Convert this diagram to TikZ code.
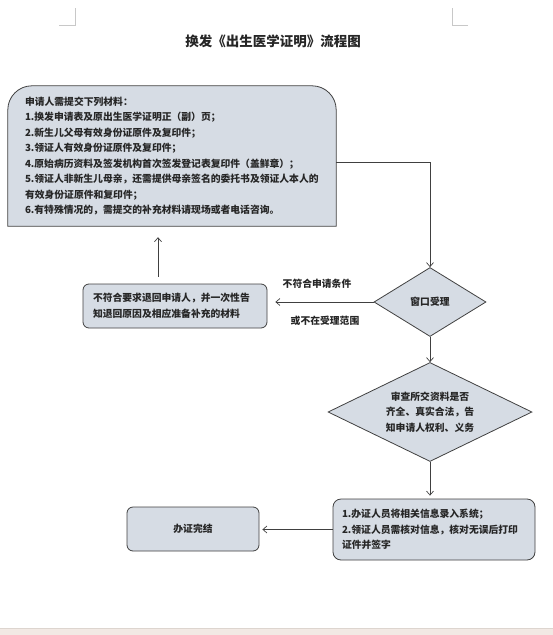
\documentclass[tikz,border=0pt]{standalone}
\usepackage{fontspec}
\setmainfont{Noto Sans CJK SC}
\usetikzlibrary{shapes.geometric,arrows.meta,calc,backgrounds}
\definecolor{boxfill}{HTML}{D6DCE4}
\definecolor{boxline}{HTML}{404040}
\definecolor{txt}{HTML}{262626}
\definecolor{markcol}{HTML}{C8C8C8}
\definecolor{stripcol}{HTML}{F2E9E4}
\definecolor{stripline}{HTML}{DDD5CF}
\begin{document}
\begin{tikzpicture}[x=1pt,y=-1pt,
  txtfont/.style={font=\fontsize{9.8}{15.5}\selectfont\bfseries, text=txt},
  roundbox/.style={draw=boxline, fill=boxfill, line width=0.8pt, rounded corners=6pt, txtfont},
  decision/.style={diamond, draw=boxline, fill=boxfill, line width=0.8pt, inner sep=0pt, txtfont, align=center},
  flow/.style={draw=boxline, line width=0.7pt, -{Straight Barb[length=4pt,width=7pt]}},
  lbl/.style={txtfont}
]
\useasboundingbox (0,0) rectangle (553,635);
% page corner marks
\draw[markcol, line width=0.6pt] (59,25) -- (75,25) -- (75,8);
\draw[markcol, line width=0.6pt] (468,25) -- (452,25) -- (452,8);
% bottom strip
\fill[stripcol] (0,629) rectangle (553,635);
\draw[stripline, line width=0.6pt] (0,628.5) -- (553,628.5);
% title
\node[font=\fontsize{13.5}{16}\selectfont\bfseries, text=txt] (title) at (273,41) {换发《出生医学证明》流程图};
% box 1
\node[txtfont, align=left, text width=294pt, minimum height=140pt, inner xsep=17pt, inner ysep=0pt] (b1) at (172,156)
{申请人需提交下列材料：\\
1.换发申请表及原出生医学证明正（副）页；\\
2.新生儿父母有效身份证原件及复印件；\\
3.领证人有效身份证原件及复印件；\\
4.原始病历资料及签发机构首次签发登记表复印件（盖鲜章）；\\
5.领证人非新生儿母亲，还需提供母亲签名的委托书及领证人本人的\\
有效身份证原件和复印件；\\
6.有特殊情况的，需提交的补充材料请现场或者电话咨询。};
\begin{scope}[on background layer]
\draw[draw=boxline, fill=boxfill, line width=0.8pt]
  (b1.south west) -- ($(b1.north west)+(0,24)$)
  .. controls ($(b1.north west)+(0,10.8)$) and ($(b1.north west)+(10.8,0)$) .. ($(b1.north west)+(24,0)$)
  -- ($(b1.north east)+(-24,0)$)
  .. controls ($(b1.north east)+(-10.8,0)$) and ($(b1.north east)+(0,10.8)$) .. ($(b1.north east)+(0,24)$)
  -- (b1.south east) -- cycle;
\end{scope}
% decision 1
\node[decision, minimum width=112pt, minimum height=69pt, aspect=1.62] (d1) at (430,302) {窗口受理};
% box 2
\node[roundbox, align=left, text width=164pt, inner xsep=10pt, minimum height=44pt] (b2) at (175,306)
{不符合要求退回申请人，并一次性告\\知退回原因及相应准备补充的材料};
% decision 2
\node[decision, minimum width=204pt, minimum height=99pt, aspect=2.06] (d2) at (430,412)
{审查所交资料是否\\齐全、真实合法，告\\知申请人权利、义务};
% box 3
\node[roundbox, rounded corners=8pt, align=left, text width=184pt, inner xsep=9pt, minimum height=61pt] (b3) at (434,529.5)
{1.办证人员将相关信息录入系统；\\2.领证人员需核对信息，核对无误后打印\\证件并签字};
% box 4
\node[roundbox, minimum width=132pt, minimum height=44pt] (b4) at (193,529) {办证完结};
% labels
\node[lbl] (l1) at (317,284) {不符合申请条件};
\node[lbl] (l2) at (325,321) {或不在受理范围};
% connectors
\coordinate (r1) at ($(b1.east)+(0,6)$);
\coordinate (u1) at ($(b2.north)+(-17,0)$);
\coordinate (u2) at (u1 |- b1.south);
\draw[flow] (r1) -| (d1.north);
\draw[flow, shorten >=8pt] (d1.west) -- (d1.west -| b2.east);
\draw[flow, shorten <=7pt, shorten >=11pt] (u1) -- (u2);
\draw[flow] (d1.south) -- (d2.north);
\draw[flow, shorten >=3pt] (d2.south) -- (d2.south |- b3.north);
\draw[flow, shorten >=3pt] (b3.west) -- (b3.west -| b4.east);
\end{tikzpicture}
\end{document}
